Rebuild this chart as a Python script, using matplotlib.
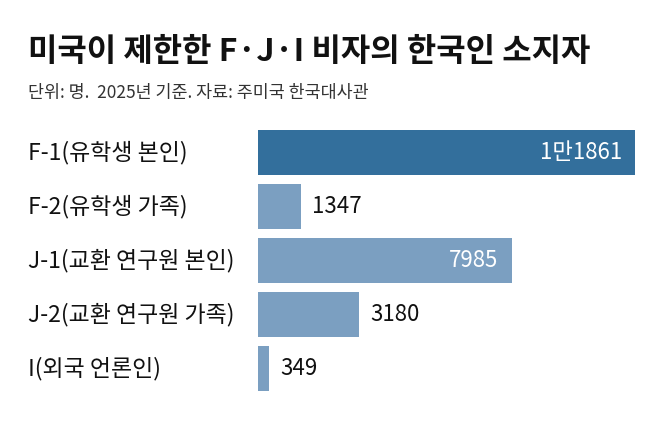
import matplotlib
matplotlib.use("Agg")
import matplotlib.pyplot as plt
import matplotlib.transforms as mtrans

plt.rcParams['font.family'] = ['Noto Sans CJK KR', 'DejaVu Sans']

title = "미국이 제한한 F·J·I 비자의 한국인 소지자"
subtitle = "단위: 명.  2025년 기준. 자료: 주미국 한국대사관"
categories = ["F-1(유학생 본인)", "F-2(유학생 가족)", "J-1(교환 연구원 본인)",
              "J-2(교환 연구원 가족)", "I(외국 언론인)"]
values = [11861, 1347, 7985, 3180, 349]
value_labels = ["1만1861", "1347", "7985", "3180", "349"]

dark = "#336f9c"
light = "#7b9fc1"

fig = plt.figure(figsize=(6.58, 4.29), dpi=100)
fig.patch.set_facecolor("white")

ax = fig.add_axes([258 / 658, 0.078, (635 - 258) / 658, 270 / 429])
ypos = list(range(len(values)))
colors = [dark] + [light] * (len(values) - 1)
ax.barh(ypos, values, height=0.83, color=colors, edgecolor="none")
ax.set_xlim(0, max(values))
ax.set_ylim(len(values) - 0.5, -0.5)
ax.axis("off")

# value labels: inside for long bars, outside for short ones
for y, v, lab in zip(ypos, values, value_labels):
    if v > 5000:
        ax.text(v - max(values) * 0.035, y, lab, ha="right", va="center",
                fontsize=16, color="white")
    else:
        ax.text(v + max(values) * 0.03, y, lab, ha="left", va="center",
                fontsize=16, color="#111111")

# category labels on the left
tr = mtrans.blended_transform_factory(fig.transFigure, ax.transData)
for y, cat in zip(ypos, categories):
    ax.text(28 / 658, y, cat, transform=tr, ha="left", va="center",
            fontsize=16.5, color="#111111",
            fontweight="medium" if y == 0 else "normal")

fig.text(28 / 658, 1 - 52 / 429, title, ha="left", va="center",
         fontsize=23, fontweight="bold", color="#111111")
fig.text(28 / 658, 1 - 93 / 429, subtitle, ha="left", va="center",
         fontsize=12.5, color="#333333")

fig.savefig("out.png", dpi=100)
